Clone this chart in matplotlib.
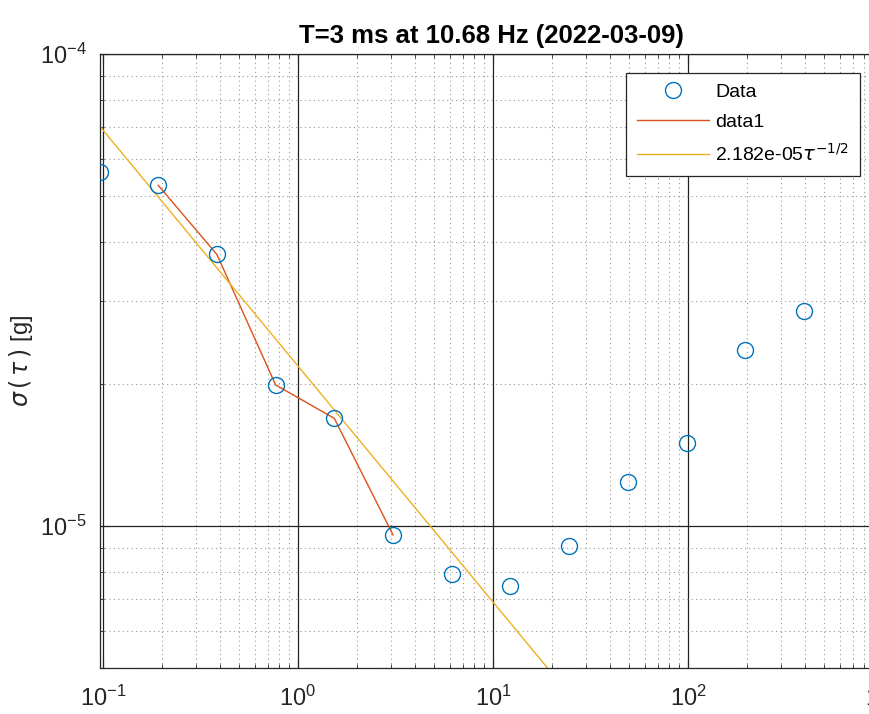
import numpy as np
import matplotlib
matplotlib.use("Agg")
import matplotlib.pyplot as plt
from matplotlib.ticker import LogLocator, NullFormatter

plt.rcParams['font.family'] = ['Liberation Sans', 'DejaVu Sans']
plt.rcParams['mathtext.fontset'] = 'dejavusans'

tau = [0.096, 0.192, 0.384, 0.768, 1.536, 3.072, 6.144, 12.288, 24.576,
       49.152, 98.304, 196.608, 393.216]
sigma = [5.62e-5, 5.27e-5, 3.76e-5, 1.99e-5, 1.69e-5, 9.57e-6, 7.91e-6,
         7.46e-6, 9.07e-6, 1.24e-5, 1.50e-5, 2.36e-5, 2.85e-5]
fit_coef = 2.182e-05
seg_start, seg_end = 1, 6  # points joined by the data1 line

W, H = 869, 714
fig = plt.figure(figsize=(W/100, H/100), dpi=100)
left, right = 99.5, 883
top, bottom = 54, 668
ax = fig.add_axes([left/W, 1-bottom/H, (right-left)/W, (bottom-top)/H])

tau_a = np.array(tau)
ax.plot(tau, sigma, 'o', mfc='none', mec='#0072BD', ms=11.5, mew=1.0, label='Data', zorder=5)
ax.plot(tau[seg_start:seg_end], sigma[seg_start:seg_end], '-', color='#D95319', lw=1.0, label='data1')
ax.plot(tau_a, fit_coef/np.sqrt(tau_a), '-', color='#EDB120', lw=1.0,
        label='2.182e-05$\\tau^{-1/2}$')

ax.set_xscale('log')
ax.set_yscale('log')
ax.set_xlim(0.096, 1000)
ax.set_ylim(5e-6, 1e-4)

ax.xaxis.set_major_locator(LogLocator(base=10, numticks=20))
ax.xaxis.set_minor_locator(LogLocator(base=10, subs=np.arange(2, 10), numticks=50))
ax.yaxis.set_minor_locator(LogLocator(base=10, subs=np.arange(2, 10), numticks=50))
ax.xaxis.set_minor_formatter(NullFormatter())
ax.yaxis.set_minor_formatter(NullFormatter())

ax.grid(True, which='major', color='#222222', lw=0.9, ls='-')
ax.grid(True, which='minor', color='#999999', lw=0.8, ls=(0, (1, 3)))
ax.tick_params(which='both', direction='in', top=True, right=True, labelsize=17, colors='#262626')
ax.tick_params(axis='x', which='major', pad=13)
ax.tick_params(axis='y', which='major', pad=9)
ax.tick_params(which='major', length=6)
ax.tick_params(which='minor', length=3)
for s in ax.spines.values():
    s.set_color('#262626')
    s.set_linewidth(0.9)

ax.set_title('T=3 ms at 10.68 Hz (2022-03-09)', fontsize=18.5, fontweight='bold', pad=8)
ax.set_ylabel('$\\sigma\\,(\\,\\tau\\,)$ [g]', fontsize=17, color='#262626', labelpad=4)

leg = ax.legend(loc='upper right', bbox_to_anchor=(860/W, 1-73/H), bbox_transform=fig.transFigure,
                fontsize=14, fancybox=False, framealpha=1, edgecolor='#262626',
                borderpad=0.55, handlelength=3.7, handletextpad=0.35, labelspacing=0.62,
                borderaxespad=0)
leg.get_frame().set_linewidth(0.9)

fig.savefig('out.png', dpi=100)
